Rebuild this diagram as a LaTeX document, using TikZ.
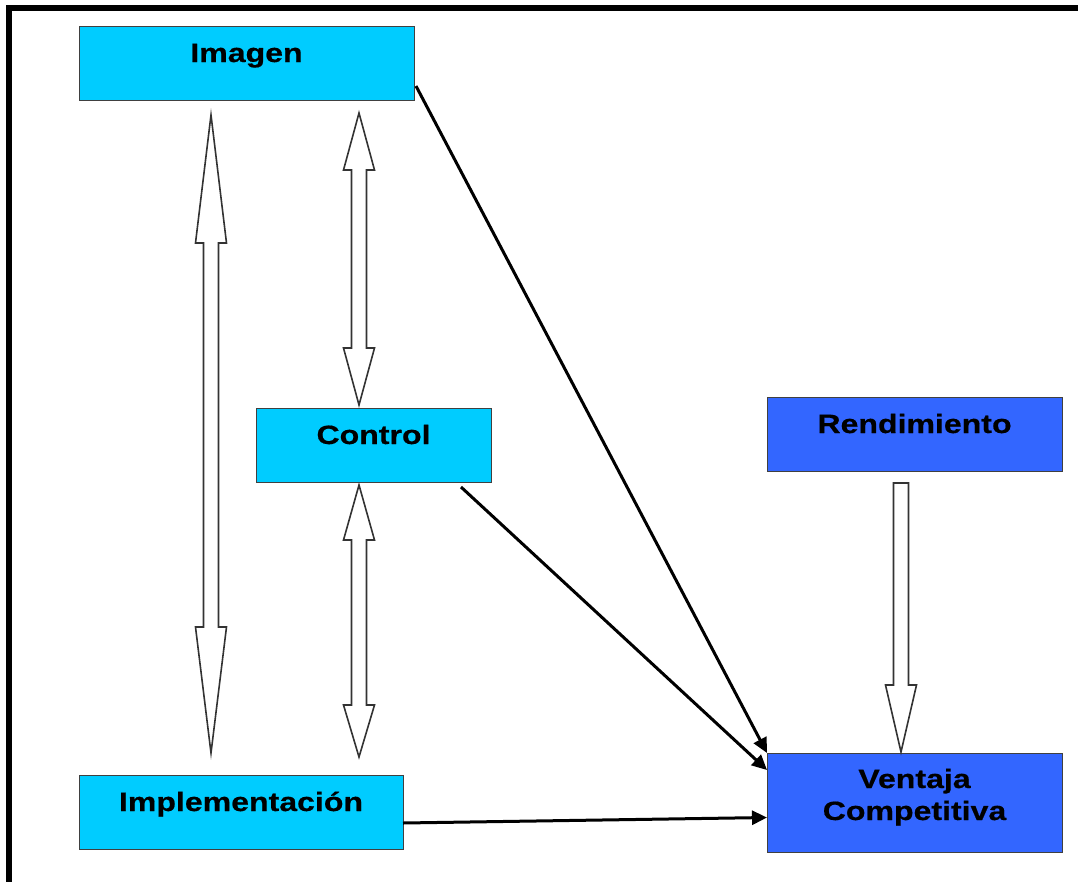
\documentclass[tikz,border=0pt]{standalone}
\usepackage{fontspec}
\setmainfont{Liberation Sans}[FakeStretch=1.21,BoldFeatures={FakeBold=0.5}]
\usetikzlibrary{arrows.meta,calc}

\definecolor{lightbox}{HTML}{00CCFF}
\definecolor{darkbox}{HTML}{3366FF}

% hollow double-headed block arrow: x, tip top, tip bottom, top head length, bottom head length
\newcommand{\hollowdbl}[5]{%
  \draw[hollow] (#1,#2) -- (#1+15.5,#2+#4) -- (#1+7.5,#2+#4) -- (#1+7.5,#3-#5)
    -- (#1+15.5,#3-#5) -- (#1,#3) -- (#1-15.5,#3-#5) -- (#1-7.5,#3-#5)
    -- (#1-7.5,#2+#4) -- (#1-15.5,#2+#4) -- cycle;}

\begin{document}
\begin{tikzpicture}[x=1pt,y=-1pt,
  every node/.style={inner sep=0pt,outer sep=0pt,anchor=north west,
    draw=black!75,line width=1pt,font=\fontsize{26.5}{32}\selectfont\bfseries},
  light/.style={fill=lightbox},
  dark/.style={fill=darkbox},
  hollow/.style={draw=black!80,fill=white,line width=1.6pt,line join=miter},
  link/.style={line width=3pt,-{Triangle[length=15pt,width=14pt]}}]
\useasboundingbox (0,0) rectangle (1078,881);

% frame
\draw[line width=6pt,line join=miter] (9,890) -- (9,8) -- (1090,8);

% boxes
\node[light] (img) at (79,26)
  {\parbox[c][74pt][t]{335pt}{\centering\rule{0pt}{36pt}Imagen}};
\node[light] (ctl) at (256,408)
  {\parbox[c][74pt][t]{235pt}{\centering\rule{0pt}{36pt}Control}};
\node[light] (imp) at (79,775)
  {\parbox[c][74pt][t]{324pt}{\centering\rule{0pt}{36pt}Implementación}};
\node[dark] (ren) at (767,397)
  {\parbox[c][74pt][t]{295pt}{\centering\rule{0pt}{36pt}Rendimiento}};
\node[dark] (ven) at (767,753)
  {\parbox[c][99pt][t]{295pt}{\centering\rule{0pt}{35pt}Ventaja\\Competitiva}};

% hollow block arrows
\hollowdbl{211}{115}{753}{128}{126}
\hollowdbl{359}{113}{405}{57}{57}
\hollowdbl{359}{485}{757}{55}{52}
\draw[hollow] (893.5,483) -- (908.5,483) -- (908.5,685) -- (916.5,685) -- (901,752)
  -- (885.5,685) -- (893.5,685) -- cycle;

% black connectors
\draw[link] ($(img.south east)+(2,-14)$) -- (ven.north west);
\draw[link] ($(ctl.south east)+(-30,5)$) -- ($(ven.north west)+(0,17)$);
\draw[link] ($(imp.east)+(0,11)$) -- ($(ven.west)+(0,15)$);
\end{tikzpicture}
\end{document}
